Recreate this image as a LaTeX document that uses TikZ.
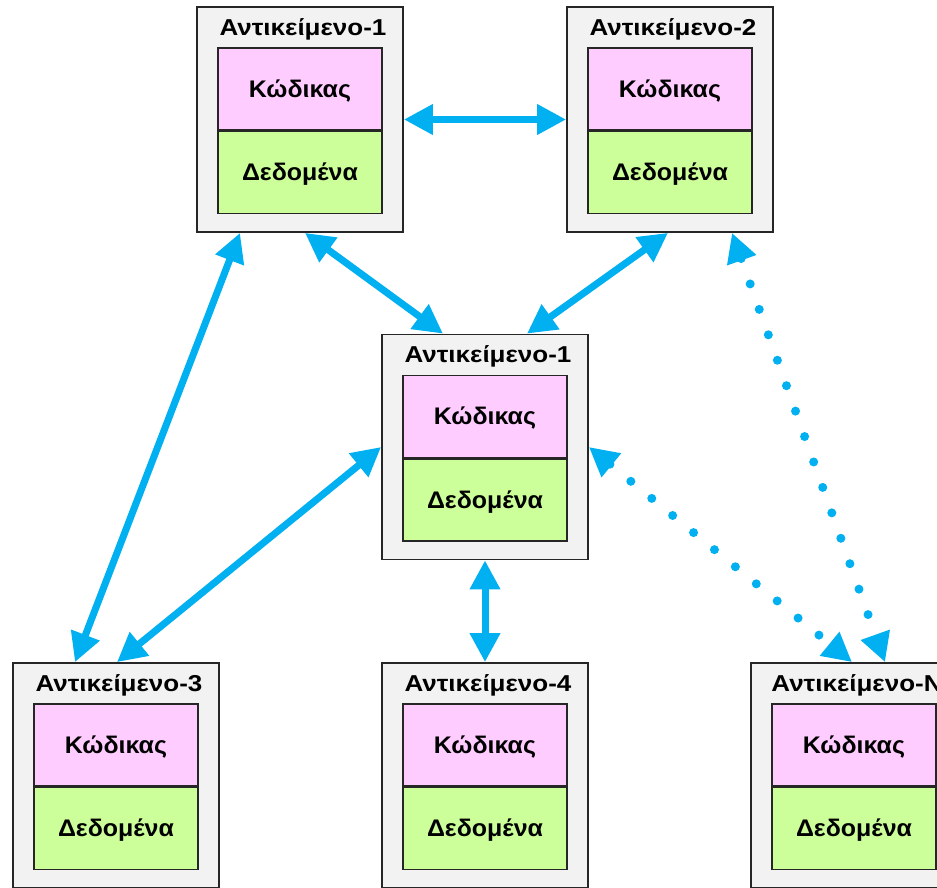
\documentclass[tikz,border=0pt]{standalone}
\usepackage{fontspec}
\setmainfont{Liberation Sans}
\newfontfamily\titlefont[FakeStretch=1.13]{Liberation Sans}
\newfontfamily\boxfont[FakeStretch=1.04]{Liberation Sans}
\usepackage{xcolor}
\usetikzlibrary{arrows.meta,positioning,calc}
\definecolor{velos}{HTML}{00B0F0}
\definecolor{roz}{HTML}{FFCCFF}
\definecolor{prasino}{HTML}{CCFF99}
\definecolor{gkri}{HTML}{F2F2F2}
\tikzset{
  obj/.style = {draw = black!85, line width = 1.8pt, fill = gkri, minimum width = 206pt, minimum height = 225pt, inner sep = 0pt},
  kod/.style = {draw = black!85, line width = 1.5pt, fill = roz, minimum width = 164pt, minimum height = 82pt, inner sep = 0pt, text height = 17pt, text depth = 0pt, font = \boxfont\fontsize{24}{28}\selectfont\bfseries},
  dat/.style = {kod, fill = prasino},
  titlos/.style = {font = \titlefont\fontsize{23}{27}\selectfont\bfseries, inner sep = 0pt},
  arr/.style = {velos, line width = 7pt, {Triangle[length=29pt,width=29pt]}-{Triangle[length=29pt,width=29pt]}},
  dots/.style = {arr, line width = 9pt, line cap = round, dash pattern = on 0pt off 27pt}
}
% one object: box, title, code and data
\newcommand{\antikeimeno}[3]{%
  \node[obj] (#1) at #2 {};
  \node[titlos, anchor = base] (#1-t) at ([xshift=3pt, yshift=-29pt]#1.north) {#3};
  \node[kod, anchor = north] (#1-k) at ([yshift=-41pt]#1.north) {Κώδικας};
  \node[dat, anchor = north] (#1-d) at (#1-k.south) {Δεδομένα};
}
\begin{document}
\begin{tikzpicture}[x = 1pt, y = -1pt]
\path[use as bounding box, clip] (0,0) rectangle (937,887);
\antikeimeno{a1}{(300,119.5)}{Αντικείμενο-1}
\antikeimeno{a2}{(670,119.5)}{Αντικείμενο-2}
\antikeimeno{c}{(485,447)}{Αντικείμενο-1}
\antikeimeno{a3}{(116,775.5)}{Αντικείμενο-3}
\antikeimeno{a4}{(485,775.5)}{Αντικείμενο-4}
\antikeimeno{an}{(854,775.5)}{Αντικείμενο-N}
% solid links
\draw[arr] (a1.east) -- (a2.west);
\draw[arr] ([xshift=5pt]a1.south) -- ([xshift=-42pt]c.north);
\draw[arr] ([xshift=-2pt]a2.south) -- ([xshift=42pt]c.north);
\draw[arr] ([xshift=-60pt]a1.south) -- ([xshift=-41pt]a3.north);
\draw[arr] (c.west) -- ([xshift=1pt]a3.north);
\draw[arr] (c.south) -- (a4.north);
% dotted links
\draw[dots] ([xshift=62pt]a2.south) -- ([xshift=31pt]an.north);
\draw[dots] (c.east) -- ([xshift=-2pt]an.north);
\end{tikzpicture}
\end{document}
